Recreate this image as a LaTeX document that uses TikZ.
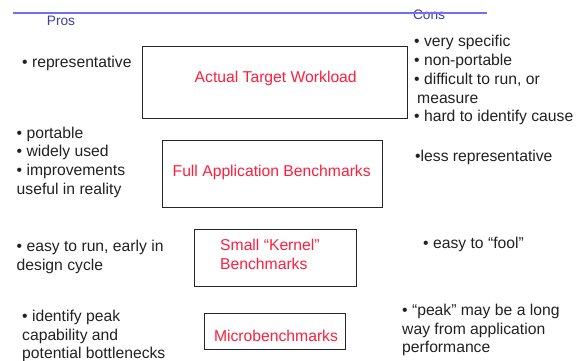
\documentclass[tikz,border=0pt]{standalone}
\usepackage{fontspec}
\setmainfont{Liberation Sans}
\definecolor{hdrblue}{RGB}{60,60,170}
\definecolor{hdrline}{RGB}{110,110,255}
\definecolor{wlred}{RGB}{255,30,60}
\begin{document}
\begin{tikzpicture}[x=1pt,y=-1pt,
  txt/.style={anchor=north west, inner sep=0, align=left, font=\fontsize{15.7}{18.8}\selectfont, text=black!87},
  hdr/.style={inner sep=0, font=\fontsize{13.7}{16}\selectfont, text=hdrblue},
  wbox/.style={draw=black!85, line width=1.1pt, inner sep=0, anchor=north west},
  wltxt/.style={inner sep=0, font=\fontsize{15.7}{18.7}\selectfont, text=wlred},
  hdrrule/.style={draw=hdrline, line width=2pt}]
\useasboundingbox (0,0) rectangle (584,360);
% headers
\node[hdr] (pros) at (61,20.5) {Pros};
\node[hdr] (cons) at (429,14.5) {Cons};
\coordinate (hl) at (13,13.3);
\coordinate (hr) at (487,13.3);
\draw[hdrrule] (hl) -- (hr);
% boxes
\node[wbox, minimum width=265, minimum height=72] (atw) at (142,46) {};
\node[wbox, minimum width=219.4, minimum height=67.3] (fab) at (162.3,140) {};
\node[wbox, minimum width=161.7, minimum height=56.4] (skb) at (194,229.3) {};
\node[wbox, minimum width=140.7, minimum height=35.7] (mb) at (204.3,313.3) {};
\node[wltxt] (atwt) at (275.7,78) {Actual Target Workload};
\node[wltxt] (fabt) at (271.7,172) {Full Application Benchmarks};
\node[wltxt, anchor=north west, align=left] (skbt) at (220,237.5) {\strut Small “Kernel”\\Benchmarks};
\node[wltxt] (mbt) at (276,335.5) {Microbenchmarks};
% pros
\node[txt] (p1) at (22,54) {\strut • representative};
\node[txt] (p2) at (16.5,124.8) {\strut • portable\\• widely used\\• improvements\\useful in reality};
\node[txt] (p3) at (16.5,238) {\strut • easy to run, early in\\design cycle};
\node[txt] (p4) at (22,308) {\strut • identify peak\\capability and\\potential bottlenecks};
% cons
\node[txt] (c1) at (414,33.4) {\strut • very specific\\• non-portable\\• difficult to run, or\\\hspace{3pt}measure\\• hard to identify cause};
\node[txt] (c2) at (415,148) {\strut •less representative};
\node[txt] (c3) at (423,235) {\strut • easy to “fool”};
\node[txt] (c4) at (402,302) {\strut • “peak” may be a long\\way from application\\performance};
\end{tikzpicture}
\end{document}
